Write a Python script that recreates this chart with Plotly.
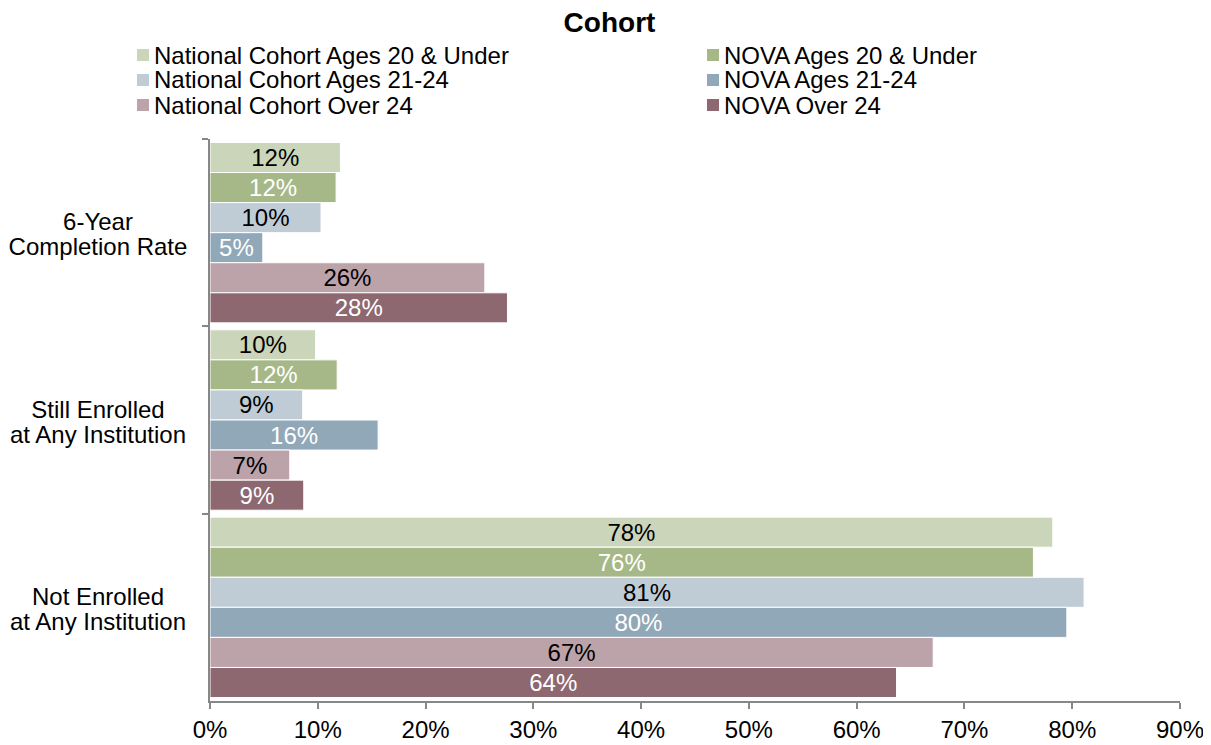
import plotly.graph_objects as go

categories = ["6-Year<br>Completion Rate", "Still Enrolled<br>at Any Institution", "Not Enrolled<br>at Any Institution"]
series_names = ["National Cohort Ages 20 & Under", "NOVA Ages 20 & Under",
                "National Cohort Ages 21-24", "NOVA Ages 21-24",
                "National Cohort Over 24", "NOVA Over 24"]
nat_20 = [12.1, 9.8, 78.2]
nova_20 = [11.7, 11.8, 76.4]
nat_21_24 = [10.3, 8.6, 81.1]
nova_21_24 = [4.9, 15.6, 79.5]
nat_over24 = [25.5, 7.4, 67.1]
nova_over24 = [27.6, 8.7, 63.7]
x_ticks = [0, 10, 20, 30, 40, 50, 60, 70, 80, 90]
x_tick_labels = [f"{v}%" for v in x_ticks]

series_values = [nat_20, nova_20, nat_21_24, nova_21_24, nat_over24, nova_over24]
colors = ["#CBD5B9", "#A7B888", "#BFCCD6", "#91A8B8", "#BCA2A9", "#8E6871"]
text_colors = ["black", "white", "black", "white", "black", "white"]

FONT = "Liberation Sans, Arial, sans-serif"
W, H = 1203, 737
ML, MR, MT, MB = 202, 31, 131, 44
PW, PH = W - ML - MR, H - MT - MB


def px_to_paper_x(fx):
    return (fx - ML) / PW


def px_to_paper_y(fy):
    return (H - MB - fy) / PH


fig = go.Figure()
for name, vals, c, tc in zip(series_names, series_values, colors, text_colors):
    fig.add_trace(go.Bar(
        y=categories, x=vals, name=name, orientation="h",
        marker=dict(color=c, line=dict(color="white", width=1)),
        texttemplate="%{x:.0f}%", textposition="inside", insidetextanchor="middle",
        constraintext="none",
        textfont=dict(color=tc, size=24, family=FONT),
        hoverinfo="skip", showlegend=False,
    ))

# category labels (centered, two lines with tight spacing)
for cat in categories:
    lines = cat.split("<br>")
    for line, shift in zip(lines, [11, -14]):
        fig.add_annotation(text=line, x=0, xref="paper", y=cat, yref="y",
                           xanchor="right", xshift=-20, width=180,
                           yshift=shift, align="center", showarrow=False,
                           font=dict(size=24, family=FONT, color="black"))

fig.update_layout(
    width=W, height=H,
    margin=dict(l=ML, r=MR, t=MT, b=MB, autoexpand=False),
    paper_bgcolor="white", plot_bgcolor="white",
    barmode="group", bargap=0.037, bargroupgap=0,
    font=dict(family=FONT, size=24, color="black"),
    title=dict(text="<b>Cohort</b>", x=0.5, xanchor="center",
               y=1 - 14 / H, yanchor="middle",
               font=dict(size=28, family=FONT, color="black")),
    showlegend=False,
    xaxis=dict(range=[0, 90], tickvals=x_ticks, ticktext=x_tick_labels, showgrid=False,
               zeroline=False, showline=True, linecolor="#878787", linewidth=2,
               ticks="outside", ticklen=6, tickcolor="#878787", tickwidth=2,
               automargin=False,
               tickfont=dict(size=24, family=FONT, color="black")),
    yaxis=dict(autorange="reversed", showticklabels=False, showgrid=False,
               showline=True, linecolor="#878787", linewidth=2,
               ticks="outside", tickson="boundaries", ticklen=6,
               automargin=False,
               tickcolor="#878787", tickwidth=2),
)

# legend: two columns, three rows (built as text + swatches)
col_x = [129, 699]
row_y = [47, 72, 97]
sw = 12
for i, (name, c) in enumerate(zip(series_names, colors)):
    col, row = i % 2, i // 2
    sx, sy = col_x[col], row_y[row]
    fig.add_shape(type="rect", xref="paper", yref="paper",
                  x0=px_to_paper_x(sx), x1=px_to_paper_x(sx + sw),
                  y0=px_to_paper_y(sy + sw / 2), y1=px_to_paper_y(sy - sw / 2),
                  fillcolor=c, line=dict(width=0))
    fig.add_annotation(text=name, xref="paper", yref="paper",
                       x=px_to_paper_x(sx + sw + 3), y=px_to_paper_y(sy),
                       xanchor="left", yanchor="middle", showarrow=False,
                       font=dict(size=24, family=FONT, color="black"))

fig.write_html("out.html")
